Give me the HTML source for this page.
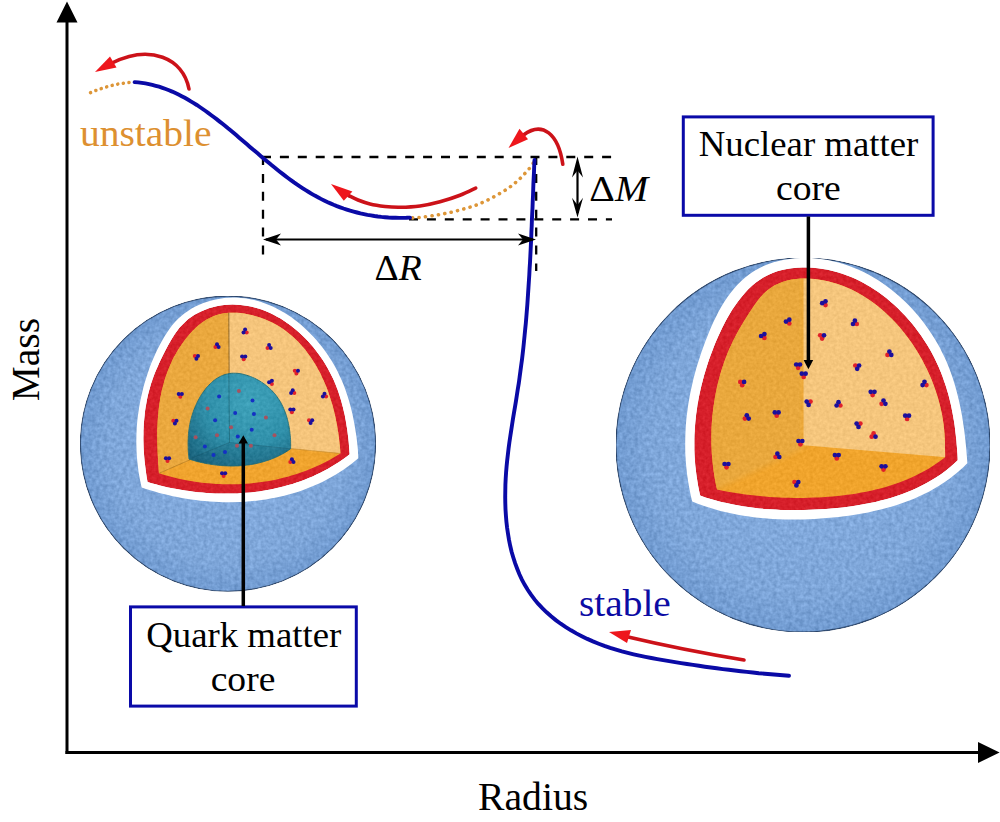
<!DOCTYPE html>
<html><head><meta charset="utf-8">
<style>
html,body{margin:0;padding:0;background:#fff;}
body{width:1000px;height:822px;overflow:hidden;font-family:"Liberation Serif",serif;}
svg{display:block;}
text{font-family:"Liberation Serif",serif;}
</style></head><body>
<svg width="1000" height="822" viewBox="0 0 1000 822">
<defs>
  <radialGradient id="gBlueL" cx="228" cy="443.7" r="148" gradientUnits="userSpaceOnUse">
    <stop offset="0" stop-color="#86addf"/><stop offset="0.8" stop-color="#7ea6d9"/><stop offset="1" stop-color="#719bd1"/>
  </radialGradient>
  <radialGradient id="gBlueR" cx="803" cy="445" r="187" gradientUnits="userSpaceOnUse">
    <stop offset="0" stop-color="#86addf"/><stop offset="0.8" stop-color="#7ea6d9"/><stop offset="1" stop-color="#719bd1"/>
  </radialGradient>
  <radialGradient id="gTeal" cx="250" cy="402" r="80" gradientUnits="userSpaceOnUse">
    <stop offset="0" stop-color="#3fa2ba"/><stop offset="0.55" stop-color="#3090aa"/><stop offset="1" stop-color="#1b657f"/>
  </radialGradient>
  <filter id="tex" x="0" y="0" width="100%" height="100%" color-interpolation-filters="sRGB">
    <feTurbulence type="fractalNoise" baseFrequency="0.26" numOctaves="2" seed="3" result="n"/>
    <feColorMatrix in="n" type="matrix" values="1 0 0 0 0  1 0 0 0 0  1 0 0 0 0  0 0 0 0 1" result="g"/>
    <feComposite in="SourceGraphic" in2="g" operator="arithmetic" k1="0" k2="1" k3="0.2" k4="-0.1" result="c"/>
    <feComposite in="c" in2="SourceGraphic" operator="in"/>
  </filter>
  <filter id="tex2" x="0" y="0" width="100%" height="100%" color-interpolation-filters="sRGB">
    <feTurbulence type="fractalNoise" baseFrequency="0.3" numOctaves="2" seed="8" result="n"/>
    <feColorMatrix in="n" type="matrix" values="1 0 0 0 0  1 0 0 0 0  1 0 0 0 0  0 0 0 0 1" result="g"/>
    <feComposite in="SourceGraphic" in2="g" operator="arithmetic" k1="0" k2="1" k3="0.11" k4="-0.055" result="c"/>
    <feComposite in="c" in2="SourceGraphic" operator="in"/>
  </filter>
  <filter id="soft" x="-5%" y="-5%" width="110%" height="110%"><feGaussianBlur stdDeviation="2.6"/></filter>
  <clipPath id="clipLo"><path d="M159.0 473.3L158.7 469.7L158.5 466.2L158.2 462.6L158.0 459.0L157.8 455.4L157.6 451.8L157.5 448.2L157.4 444.6L157.3 441.0L157.3 437.4L157.3 433.8L157.3 430.2L157.4 426.6L157.6 423.0L157.8 419.4L158.1 415.8L158.4 412.3L158.8 408.7L159.2 405.2L159.8 401.6L160.3 398.1L161.0 394.6L161.7 391.1L162.6 387.6L163.5 384.2L164.4 380.7L165.5 377.3L166.7 373.9L167.9 370.5L169.3 367.2L170.7 363.9L172.2 360.6L173.8 357.3L175.6 354.2L177.4 351.0L179.3 347.9L181.3 344.9L183.4 341.9L185.6 339.0L187.9 336.2L190.2 333.4L192.7 330.8L195.3 328.2L198.0 325.8L200.8 323.6L203.6 321.5L206.6 319.6L209.6 317.9L212.8 316.5L216.0 315.3L219.3 314.3L222.7 313.6L226.2 313.1L229.7 312.8L233.3 312.7L236.9 312.8L240.5 313.1L244.1 313.6L247.7 314.3L251.3 315.0L254.9 316.0L258.5 317.0L262.0 318.2L265.4 319.6L268.8 321.0L272.1 322.6L275.4 324.3L278.5 326.1L281.6 328.1L284.5 330.1L287.4 332.2L290.2 334.4L292.9 336.8L295.5 339.2L298.0 341.6L300.4 344.2L302.8 346.9L305.1 349.6L307.2 352.4L309.3 355.3L311.4 358.2L313.3 361.2L315.2 364.2L317.0 367.3L318.7 370.4L320.4 373.6L321.9 376.9L323.4 380.1L324.9 383.4L326.3 386.8L327.6 390.2L328.8 393.6L329.9 397.0L331.0 400.4L332.1 403.9L333.1 407.4L334.0 410.9L334.8 414.5L335.6 418.0L336.3 421.6L337.0 425.1L337.6 428.7L338.2 432.2L338.7 435.8L339.1 439.4L339.5 442.9L339.9 446.4L340.2 450.0L340.4 453.5L337.1 455.5L333.8 457.5L330.4 459.4L327.0 461.2L323.6 463.0L320.1 464.7L316.6 466.3L313.1 467.8L309.6 469.3L306.0 470.7L302.4 472.0L298.8 473.3L295.1 474.5L291.5 475.6L287.8 476.7L284.1 477.6L280.4 478.5L276.6 479.4L272.9 480.2L269.1 480.9L265.3 481.5L261.5 482.1L257.7 482.6L253.9 483.0L250.1 483.4L246.3 483.7L242.4 484.0L238.6 484.2L234.8 484.3L230.9 484.3L227.1 484.3L223.2 484.2L219.4 484.1L215.5 483.9L211.7 483.6L207.9 483.3L204.0 482.9L200.2 482.4L196.4 481.9L192.6 481.3L188.8 480.7L185.0 479.9L181.3 479.2L177.5 478.4L173.8 477.5L170.0 476.5L166.3 475.5L162.7 474.4L159.0 473.3Z"/></clipPath>
  <clipPath id="clipLt"><path d="M189.0 459.1L188.8 457.1L188.6 455.1L188.5 453.1L188.3 451.1L188.2 449.1L188.2 447.2L188.1 445.2L188.1 443.3L188.1 441.4L188.2 439.4L188.3 437.5L188.4 435.6L188.5 433.7L188.7 431.8L188.9 429.9L189.2 428.1L189.5 426.2L189.8 424.3L190.2 422.4L190.6 420.6L191.1 418.7L191.6 416.8L192.2 414.9L192.8 413.1L193.4 411.2L194.1 409.3L194.9 407.4L195.7 405.6L196.5 403.7L197.4 401.9L198.3 400.1L199.3 398.3L200.3 396.5L201.4 394.8L202.5 393.1L203.7 391.4L204.9 389.8L206.1 388.2L207.4 386.7L208.7 385.3L210.1 383.9L211.5 382.6L212.9 381.3L214.4 380.1L215.9 379.0L217.5 378.0L219.1 377.1L220.7 376.2L222.4 375.5L224.1 374.8L225.9 374.3L227.7 373.9L229.5 373.5L231.4 373.3L233.3 373.2L235.2 373.2L237.1 373.3L239.0 373.5L241.0 373.8L243.0 374.2L244.9 374.7L246.9 375.3L248.8 375.9L250.7 376.6L252.6 377.4L254.5 378.2L256.3 379.1L258.1 380.1L259.9 381.1L261.6 382.2L263.2 383.3L264.8 384.4L266.4 385.6L267.9 386.9L269.4 388.2L270.8 389.5L272.1 390.8L273.4 392.3L274.7 393.7L275.9 395.2L277.0 396.7L278.1 398.3L279.2 399.9L280.2 401.5L281.1 403.2L282.0 404.9L282.9 406.7L283.7 408.5L284.4 410.3L285.1 412.1L285.8 413.9L286.4 415.8L287.0 417.7L287.5 419.6L288.0 421.5L288.4 423.5L288.8 425.4L289.2 427.4L289.5 429.4L289.8 431.3L290.0 433.3L290.2 435.3L290.4 437.2L290.5 439.2L290.6 441.1L290.6 443.1L290.7 445.0L290.6 446.9L290.6 448.8L288.8 450.0L287.0 451.2L285.1 452.4L283.3 453.5L281.4 454.5L279.4 455.5L277.5 456.4L275.6 457.3L273.6 458.2L271.6 459.0L269.6 459.7L267.6 460.4L265.5 461.1L263.5 461.7L261.4 462.3L259.3 462.8L257.2 463.3L255.1 463.8L253.0 464.2L250.9 464.5L248.8 464.9L246.6 465.1L244.5 465.4L242.3 465.6L240.2 465.7L238.0 465.9L235.8 465.9L233.7 466.0L231.5 466.0L229.3 466.0L227.2 465.9L225.0 465.8L222.8 465.7L220.7 465.5L218.5 465.3L216.3 465.1L214.2 464.8L212.0 464.5L209.9 464.1L207.7 463.8L205.6 463.4L203.5 462.9L201.4 462.5L199.3 462.0L197.2 461.5L195.1 460.9L193.1 460.3L191.0 459.7L189.0 459.1Z"/></clipPath>
  <clipPath id="clipRo"><path d="M717.0 489.6L716.0 485.2L715.2 480.7L714.4 476.2L713.7 471.6L713.1 467.0L712.6 462.5L712.2 457.9L711.8 453.2L711.6 448.6L711.4 444.0L711.4 439.3L711.4 434.6L711.5 430.0L711.7 425.3L712.0 420.7L712.4 416.0L712.9 411.4L713.5 406.8L714.2 402.2L714.9 397.6L715.8 393.0L716.7 388.4L717.7 383.9L718.9 379.4L720.1 375.0L721.4 370.6L722.8 366.2L724.3 361.8L725.9 357.5L727.5 353.3L729.3 349.1L731.2 344.9L733.1 340.8L735.2 336.7L737.3 332.7L739.5 328.7L741.9 324.7L744.3 320.7L746.8 316.7L749.3 312.7L752.0 308.7L754.7 304.7L757.6 300.8L760.6 297.0L763.8 293.5L767.2 290.4L770.9 287.7L774.7 285.3L778.8 283.4L783.0 281.8L787.3 280.5L791.8 279.6L796.3 278.9L800.9 278.6L805.6 278.5L810.3 278.7L815.0 279.1L819.6 279.7L824.2 280.5L828.7 281.5L833.2 282.7L837.6 284.0L841.9 285.5L846.2 287.2L850.4 289.1L854.5 291.1L858.5 293.2L862.5 295.5L866.4 297.9L870.2 300.5L874.0 303.2L877.6 306.0L881.2 309.0L884.7 312.0L888.1 315.2L891.5 318.5L894.7 321.8L897.9 325.3L900.9 328.8L903.9 332.5L906.8 336.2L909.6 340.0L912.3 343.8L914.9 347.8L917.4 351.7L919.8 355.8L922.1 359.8L924.2 364.0L926.3 368.1L928.3 372.3L930.2 376.6L932.0 380.8L933.6 385.1L935.2 389.4L936.6 393.7L938.0 398.0L939.2 402.4L940.3 406.7L941.3 411.2L942.2 415.6L942.9 420.1L943.6 424.6L944.1 429.2L944.5 433.8L944.8 438.5L945.0 443.2L945.0 448.0L945.1 452.7L945.1 457.3L941.2 460.3L937.2 463.1L933.1 465.8L929.0 468.4L924.8 470.8L920.6 473.1L916.3 475.3L912.0 477.3L907.6 479.2L903.1 481.0L898.7 482.7L894.1 484.3L889.6 485.8L885.0 487.2L880.3 488.4L875.7 489.6L871.0 490.7L866.3 491.7L861.5 492.6L856.7 493.4L852.0 494.2L847.1 494.8L842.3 495.4L837.5 496.0L832.6 496.4L827.8 496.8L822.9 497.2L818.1 497.4L813.2 497.6L808.3 497.8L803.5 497.9L798.6 497.9L793.7 497.9L788.8 497.8L784.0 497.7L779.1 497.5L774.3 497.2L769.4 496.9L764.6 496.5L759.8 496.1L755.0 495.6L750.2 495.1L745.4 494.4L740.6 493.8L735.8 493.1L731.1 492.3L726.4 491.4L721.7 490.5L717.0 489.6Z"/></clipPath>
</defs>

<!-- ================= LEFT SPHERE ================= -->
<g id="sphL">
  <circle cx="228" cy="443.7" r="147.6" fill="url(#gBlueL)" stroke="#334e74" stroke-width="1.1" filter="url(#tex)"/>
  <path d="M141.6 487.5L140.7 483.3L139.8 479.1L139.1 474.9L138.4 470.7L137.9 466.5L137.4 462.3L137.0 458.0L136.7 453.8L136.5 449.6L136.4 445.3L136.3 441.1L136.4 436.8L136.5 432.6L136.7 428.4L137.0 424.2L137.4 420.0L137.9 415.8L138.5 411.6L139.1 407.4L139.9 403.2L140.7 399.0L141.6 394.9L142.6 390.7L143.6 386.6L144.8 382.5L146.0 378.4L147.3 374.4L148.7 370.3L150.1 366.3L151.7 362.3L153.3 358.4L155.1 354.5L156.9 350.6L158.8 346.7L160.8 342.9L162.9 339.2L165.1 335.5L167.4 331.9L169.8 328.4L172.4 325.0L175.2 321.8L178.1 318.8L181.3 316.0L184.6 313.3L188.0 310.9L191.6 308.6L195.4 306.6L199.3 304.8L203.3 303.1L207.3 301.7L211.5 300.5L215.6 299.5L219.9 298.7L224.1 298.1L228.3 297.7L232.5 297.6L236.7 297.6L240.9 297.9L245.0 298.3L249.1 299.0L253.2 299.8L257.2 300.8L261.2 302.0L265.1 303.4L269.0 304.9L272.8 306.6L276.6 308.4L280.3 310.4L284.0 312.5L287.6 314.7L291.1 317.1L294.6 319.7L298.0 322.3L301.3 325.0L304.5 327.9L307.7 330.9L310.7 333.9L313.7 337.1L316.6 340.3L319.4 343.7L322.1 347.1L324.7 350.5L327.2 354.1L329.6 357.7L331.9 361.3L334.1 365.0L336.2 368.8L338.1 372.6L339.9 376.4L341.7 380.2L343.3 384.1L344.8 388.1L346.2 392.0L347.5 396.0L348.8 400.0L349.9 404.0L351.0 408.1L352.0 412.2L352.9 416.3L353.7 420.4L354.5 424.5L355.2 428.7L355.9 432.9L356.5 437.1L357.0 441.3L357.5 445.6L357.9 449.8L358.1 454.1L358.3 458.3L354.7 461.3L351.0 464.2L347.2 467.0L343.4 469.7L339.5 472.3L335.5 474.7L331.5 477.1L327.4 479.3L323.3 481.4L319.1 483.4L314.9 485.3L310.6 487.1L306.3 488.8L302.0 490.4L297.6 491.9L293.1 493.3L288.7 494.5L284.2 495.7L279.6 496.8L275.1 497.7L270.5 498.6L265.9 499.4L261.3 500.1L256.6 500.7L252.0 501.1L247.3 501.5L242.6 501.9L237.9 502.1L233.2 502.2L228.5 502.2L223.8 502.2L219.1 502.1L214.4 501.8L209.8 501.5L205.1 501.1L200.4 500.7L195.7 500.1L191.1 499.5L186.4 498.8L181.8 498.0L177.2 497.1L172.7 496.2L168.1 495.1L163.6 494.0L159.2 492.9L154.7 491.6L150.3 490.3L145.9 488.9L141.6 487.5Z" fill="#fff"/>
  <g filter="url(#tex2)">
  <path d="M147.6 482.0L146.9 478.2L146.3 474.3L145.8 470.4L145.3 466.5L144.8 462.6L144.4 458.7L144.1 454.7L143.8 450.7L143.6 446.8L143.5 442.8L143.4 438.8L143.5 434.8L143.5 430.8L143.7 426.8L143.9 422.9L144.3 418.9L144.7 414.9L145.1 411.0L145.7 407.1L146.4 403.2L147.1 399.3L147.9 395.5L148.9 391.6L149.9 387.9L151.0 384.1L152.2 380.4L153.5 376.7L154.9 373.1L156.4 369.5L158.0 365.9L159.6 362.3L161.3 358.7L163.1 355.1L164.9 351.6L166.7 348.0L168.6 344.4L170.6 340.9L172.7 337.4L174.9 334.0L177.3 330.8L179.7 327.6L182.4 324.7L185.2 321.9L188.1 319.3L191.3 317.0L194.6 314.8L198.0 312.9L201.6 311.2L205.3 309.7L209.0 308.3L212.9 307.2L216.7 306.3L220.7 305.6L224.6 305.1L228.5 304.7L232.4 304.6L236.3 304.7L240.2 304.9L244.1 305.4L247.9 306.0L251.7 306.8L255.4 307.7L259.1 308.8L262.8 310.1L266.4 311.5L270.0 313.1L273.5 314.8L277.0 316.7L280.4 318.6L283.8 320.7L287.0 323.0L290.3 325.3L293.4 327.7L296.5 330.3L299.6 333.0L302.5 335.7L305.4 338.6L308.2 341.5L310.9 344.5L313.5 347.6L316.0 350.8L318.4 354.0L320.8 357.3L323.0 360.6L325.2 364.0L327.2 367.4L329.1 370.9L330.9 374.4L332.7 378.0L334.3 381.5L335.8 385.2L337.2 388.8L338.5 392.5L339.7 396.2L340.9 399.9L341.9 403.7L342.9 407.4L343.8 411.2L344.7 415.1L345.4 418.9L346.1 422.8L346.7 426.7L347.3 430.6L347.8 434.5L348.3 438.4L348.7 442.4L349.0 446.3L349.3 450.3L349.6 454.3L346.1 457.0L342.6 459.5L339.0 462.0L335.3 464.3L331.6 466.6L327.9 468.7L324.1 470.8L320.3 472.7L316.4 474.6L312.5 476.4L308.5 478.1L304.5 479.7L300.5 481.2L296.5 482.6L292.4 483.9L288.3 485.1L284.1 486.3L280.0 487.3L275.8 488.3L271.6 489.2L267.3 490.0L263.1 490.7L258.8 491.4L254.5 491.9L250.2 492.4L245.9 492.8L241.6 493.1L237.3 493.4L232.9 493.5L228.6 493.6L224.2 493.6L219.9 493.6L215.5 493.5L211.2 493.2L206.9 493.0L202.5 492.6L198.2 492.2L193.9 491.7L189.6 491.1L185.3 490.5L181.0 489.8L176.8 489.1L172.5 488.3L168.3 487.4L164.1 486.4L160.0 485.4L155.8 484.3L151.7 483.2L147.6 482.0Z" fill="#d61f2a"/>
  <path d="M159.0 473.3L158.7 469.7L158.5 466.2L158.2 462.6L158.0 459.0L157.8 455.4L157.6 451.8L157.5 448.2L157.4 444.6L157.3 441.0L157.3 437.4L157.3 433.8L157.3 430.2L157.4 426.6L157.6 423.0L157.8 419.4L158.1 415.8L158.4 412.3L158.8 408.7L159.2 405.2L159.8 401.6L160.3 398.1L161.0 394.6L161.7 391.1L162.6 387.6L163.5 384.2L164.4 380.7L165.5 377.3L166.7 373.9L167.9 370.5L169.3 367.2L170.7 363.9L172.2 360.6L173.8 357.3L175.6 354.2L177.4 351.0L179.3 347.9L181.3 344.9L183.4 341.9L185.6 339.0L187.9 336.2L190.2 333.4L192.7 330.8L195.3 328.2L198.0 325.8L200.8 323.6L203.6 321.5L206.6 319.6L209.6 317.9L212.8 316.5L216.0 315.3L219.3 314.3L222.7 313.6L226.2 313.1L229.7 312.8L233.3 312.7L236.9 312.8L240.5 313.1L244.1 313.6L247.7 314.3L251.3 315.0L254.9 316.0L258.5 317.0L262.0 318.2L265.4 319.6L268.8 321.0L272.1 322.6L275.4 324.3L278.5 326.1L281.6 328.1L284.5 330.1L287.4 332.2L290.2 334.4L292.9 336.8L295.5 339.2L298.0 341.6L300.4 344.2L302.8 346.9L305.1 349.6L307.2 352.4L309.3 355.3L311.4 358.2L313.3 361.2L315.2 364.2L317.0 367.3L318.7 370.4L320.4 373.6L321.9 376.9L323.4 380.1L324.9 383.4L326.3 386.8L327.6 390.2L328.8 393.6L329.9 397.0L331.0 400.4L332.1 403.9L333.1 407.4L334.0 410.9L334.8 414.5L335.6 418.0L336.3 421.6L337.0 425.1L337.6 428.7L338.2 432.2L338.7 435.8L339.1 439.4L339.5 442.9L339.9 446.4L340.2 450.0L340.4 453.5L337.1 455.5L333.8 457.5L330.4 459.4L327.0 461.2L323.6 463.0L320.1 464.7L316.6 466.3L313.1 467.8L309.6 469.3L306.0 470.7L302.4 472.0L298.8 473.3L295.1 474.5L291.5 475.6L287.8 476.7L284.1 477.6L280.4 478.5L276.6 479.4L272.9 480.2L269.1 480.9L265.3 481.5L261.5 482.1L257.7 482.6L253.9 483.0L250.1 483.4L246.3 483.7L242.4 484.0L238.6 484.2L234.8 484.3L230.9 484.3L227.1 484.3L223.2 484.2L219.4 484.1L215.5 483.9L211.7 483.6L207.9 483.3L204.0 482.9L200.2 482.4L196.4 481.9L192.6 481.3L188.8 480.7L185.0 479.9L181.3 479.2L177.5 478.4L173.8 477.5L170.0 476.5L166.3 475.5L162.7 474.4L159.0 473.3Z" fill="#f0a42e"/>
  <g clip-path="url(#clipLo)">
    <path d="M228.79999999999998 292.4 L229.5 442.5 L159 473.3 L60 483.3 L60 280 Z" fill="#eaa83e"/>
    <path d="M228.79999999999998 292.4 L229.5 442.5 L343.4 453.6 L420 460 L420 280 Z" fill="#f5c57c"/>
    <path d="M228.79999999999998 312.4 L229.5 442.5" stroke="#7a5a2a" stroke-width="0.8" fill="none"/>
    <path d="M159 473.3 L229.5 442.5" stroke="#b07a24" stroke-width="0.7" fill="none"/>
    <path d="M340.4 453.5 L229.5 442.5" stroke="#c08a34" stroke-width="0.6" fill="none"/>
  </g>
  <path d="M189.0 459.1L188.8 457.1L188.6 455.1L188.5 453.1L188.3 451.1L188.2 449.1L188.2 447.2L188.1 445.2L188.1 443.3L188.1 441.4L188.2 439.4L188.3 437.5L188.4 435.6L188.5 433.7L188.7 431.8L188.9 429.9L189.2 428.1L189.5 426.2L189.8 424.3L190.2 422.4L190.6 420.6L191.1 418.7L191.6 416.8L192.2 414.9L192.8 413.1L193.4 411.2L194.1 409.3L194.9 407.4L195.7 405.6L196.5 403.7L197.4 401.9L198.3 400.1L199.3 398.3L200.3 396.5L201.4 394.8L202.5 393.1L203.7 391.4L204.9 389.8L206.1 388.2L207.4 386.7L208.7 385.3L210.1 383.9L211.5 382.6L212.9 381.3L214.4 380.1L215.9 379.0L217.5 378.0L219.1 377.1L220.7 376.2L222.4 375.5L224.1 374.8L225.9 374.3L227.7 373.9L229.5 373.5L231.4 373.3L233.3 373.2L235.2 373.2L237.1 373.3L239.0 373.5L241.0 373.8L243.0 374.2L244.9 374.7L246.9 375.3L248.8 375.9L250.7 376.6L252.6 377.4L254.5 378.2L256.3 379.1L258.1 380.1L259.9 381.1L261.6 382.2L263.2 383.3L264.8 384.4L266.4 385.6L267.9 386.9L269.4 388.2L270.8 389.5L272.1 390.8L273.4 392.3L274.7 393.7L275.9 395.2L277.0 396.7L278.1 398.3L279.2 399.9L280.2 401.5L281.1 403.2L282.0 404.9L282.9 406.7L283.7 408.5L284.4 410.3L285.1 412.1L285.8 413.9L286.4 415.8L287.0 417.7L287.5 419.6L288.0 421.5L288.4 423.5L288.8 425.4L289.2 427.4L289.5 429.4L289.8 431.3L290.0 433.3L290.2 435.3L290.4 437.2L290.5 439.2L290.6 441.1L290.6 443.1L290.7 445.0L290.6 446.9L290.6 448.8L288.8 450.0L287.0 451.2L285.1 452.4L283.3 453.5L281.4 454.5L279.4 455.5L277.5 456.4L275.6 457.3L273.6 458.2L271.6 459.0L269.6 459.7L267.6 460.4L265.5 461.1L263.5 461.7L261.4 462.3L259.3 462.8L257.2 463.3L255.1 463.8L253.0 464.2L250.9 464.5L248.8 464.9L246.6 465.1L244.5 465.4L242.3 465.6L240.2 465.7L238.0 465.9L235.8 465.9L233.7 466.0L231.5 466.0L229.3 466.0L227.2 465.9L225.0 465.8L222.8 465.7L220.7 465.5L218.5 465.3L216.3 465.1L214.2 464.8L212.0 464.5L209.9 464.1L207.7 463.8L205.6 463.4L203.5 462.9L201.4 462.5L199.3 462.0L197.2 461.5L195.1 460.9L193.1 460.3L191.0 459.7L189.0 459.1Z" fill="url(#gTeal)" stroke="#256f78" stroke-width="0.9"/>
  <g clip-path="url(#clipLt)">
    <path d="M229.5 442.5 L189 459.1 L185 480 L295 480 L290.6 448.8 Z" fill="#124f68" opacity="0.2"/>
    <path d="M228.79999999999998 372 L229.5 442.5" stroke="#1d5f6e" stroke-width="0.8" fill="none" opacity="0.8"/>
    <path d="M189 459.1 L229.5 442.5 L290.6 448.8" stroke="#1a5a6c" stroke-width="0.7" fill="none" opacity="0.6"/>
  </g>
  </g>
  <circle cx="246.7" cy="332.4" r="2.0" fill="#e0202a"/><circle cx="243.5" cy="332.4" r="2.0" fill="#1c0f9c"/><circle cx="245.1" cy="329.6" r="2.0" fill="#1c0f9c"/><circle cx="215.4" cy="347.1" r="2.0" fill="#e0202a"/><circle cx="217.0" cy="344.3" r="2.0" fill="#1c0f9c"/><circle cx="218.6" cy="347.1" r="2.0" fill="#1c0f9c"/><circle cx="267.5" cy="347.9" r="2.0" fill="#e0202a"/><circle cx="269.1" cy="345.1" r="2.0" fill="#1c0f9c"/><circle cx="270.7" cy="347.9" r="2.0" fill="#1c0f9c"/><circle cx="194.8" cy="356.0" r="2.0" fill="#e0202a"/><circle cx="198.0" cy="356.0" r="2.0" fill="#1c0f9c"/><circle cx="196.4" cy="358.8" r="2.0" fill="#1c0f9c"/><circle cx="243.7" cy="359.2" r="2.0" fill="#e0202a"/><circle cx="242.1" cy="356.5" r="2.0" fill="#1c0f9c"/><circle cx="245.3" cy="356.5" r="2.0" fill="#1c0f9c"/><circle cx="296.4" cy="373.5" r="2.0" fill="#e0202a"/><circle cx="294.8" cy="370.7" r="2.0" fill="#e0202a"/><circle cx="298.0" cy="370.7" r="2.0" fill="#1c0f9c"/><circle cx="271.9" cy="383.9" r="2.0" fill="#e0202a"/><circle cx="269.1" cy="382.3" r="2.0" fill="#1c0f9c"/><circle cx="271.9" cy="380.7" r="2.0" fill="#1c0f9c"/><circle cx="180.3" cy="396.8" r="2.0" fill="#e0202a"/><circle cx="178.7" cy="394.0" r="2.0" fill="#1c0f9c"/><circle cx="181.9" cy="394.0" r="2.0" fill="#1c0f9c"/><circle cx="294.3" cy="393.1" r="2.0" fill="#e0202a"/><circle cx="291.1" cy="393.1" r="2.0" fill="#1c0f9c"/><circle cx="292.7" cy="390.3" r="2.0" fill="#1c0f9c"/><circle cx="326.1" cy="396.6" r="2.0" fill="#e0202a"/><circle cx="322.9" cy="396.6" r="2.0" fill="#1c0f9c"/><circle cx="324.5" cy="393.8" r="2.0" fill="#1c0f9c"/><circle cx="291.9" cy="412.2" r="2.0" fill="#e0202a"/><circle cx="290.3" cy="409.5" r="2.0" fill="#1c0f9c"/><circle cx="293.5" cy="409.5" r="2.0" fill="#1c0f9c"/><circle cx="173.3" cy="420.7" r="2.0" fill="#e0202a"/><circle cx="176.5" cy="420.7" r="2.0" fill="#1c0f9c"/><circle cx="174.9" cy="423.5" r="2.0" fill="#1c0f9c"/><circle cx="309.0" cy="420.2" r="2.0" fill="#e0202a"/><circle cx="312.2" cy="420.2" r="2.0" fill="#1c0f9c"/><circle cx="310.6" cy="423.0" r="2.0" fill="#1c0f9c"/><circle cx="167.5" cy="461.0" r="2.0" fill="#e0202a"/><circle cx="165.9" cy="458.2" r="2.0" fill="#1c0f9c"/><circle cx="169.1" cy="458.2" r="2.0" fill="#1c0f9c"/><circle cx="290.3" cy="462.1" r="2.0" fill="#e0202a"/><circle cx="291.9" cy="459.3" r="2.0" fill="#1c0f9c"/><circle cx="293.5" cy="462.1" r="2.0" fill="#1c0f9c"/><circle cx="223.6" cy="476.0" r="2.0" fill="#e0202a"/><circle cx="222.0" cy="473.2" r="2.0" fill="#1c0f9c"/><circle cx="225.2" cy="473.2" r="2.0" fill="#1c0f9c"/>
  <circle cx="219.1" cy="396.5" r="2" fill="#1430c4"/><circle cx="252.5" cy="400.5" r="2" fill="#1430c4"/><circle cx="235.2" cy="413.1" r="2" fill="#1430c4"/><circle cx="253.9" cy="413.9" r="2" fill="#1430c4"/><circle cx="215.1" cy="420.3" r="2" fill="#1430c4"/><circle cx="251.7" cy="429.7" r="2" fill="#1430c4"/><circle cx="237.8" cy="436.6" r="2" fill="#1430c4"/><circle cx="204.9" cy="446.5" r="2" fill="#1430c4"/><circle cx="225.0" cy="451.9" r="2" fill="#1430c4"/><circle cx="213.5" cy="455.1" r="2" fill="#1430c4"/>
  <circle cx="238.9" cy="390.9" r="2" fill="#a5525f"/><circle cx="207.6" cy="408.5" r="2" fill="#a5525f"/><circle cx="265.9" cy="417.6" r="2" fill="#a5525f"/><circle cx="231.1" cy="427.3" r="2" fill="#a5525f"/><circle cx="217.0" cy="435.3" r="2" fill="#a5525f"/><circle cx="195.6" cy="437.2" r="2" fill="#a5525f"/><circle cx="274.5" cy="435.3" r="2" fill="#a5525f"/><circle cx="237.0" cy="445.7" r="2" fill="#a5525f"/><circle cx="250.9" cy="445.7" r="2" fill="#a5525f"/>
</g>

<!-- ================= RIGHT SPHERE ================= -->
<g id="sphR">
  <circle cx="803" cy="445" r="187" fill="url(#gBlueR)" stroke="#334e74" stroke-width="1.1" filter="url(#tex)"/>
  <path d="M692.2 501.6L690.9 496.2L689.8 490.8L688.8 485.4L687.9 480.0L687.1 474.6L686.5 469.2L686.0 463.8L685.6 458.4L685.3 453.0L685.2 447.6L685.2 442.2L685.3 436.8L685.5 431.5L685.8 426.1L686.2 420.8L686.8 415.4L687.5 410.1L688.2 404.7L689.1 399.4L690.1 394.1L691.2 388.8L692.4 383.5L693.6 378.2L695.0 372.9L696.5 367.6L698.1 362.4L699.8 357.2L701.5 351.9L703.4 346.7L705.3 341.5L707.3 336.4L709.4 331.2L711.6 326.1L713.9 321.0L716.4 316.0L718.9 311.1L721.6 306.3L724.5 301.6L727.5 297.1L730.7 292.7L734.1 288.5L737.7 284.5L741.5 280.8L745.5 277.2L749.7 274.0L754.1 271.0L758.7 268.4L763.5 266.0L768.5 264.0L773.5 262.3L778.7 260.9L784.0 259.8L789.4 258.9L794.9 258.3L800.4 258.0L805.9 257.9L811.4 258.1L816.8 258.5L822.3 259.2L827.7 260.1L833.0 261.2L838.3 262.5L843.5 264.1L848.6 265.8L853.7 267.7L858.7 269.8L863.6 272.1L868.4 274.6L873.1 277.3L877.8 280.1L882.3 283.1L886.8 286.2L891.1 289.5L895.4 293.0L899.5 296.5L903.6 300.3L907.5 304.1L911.3 308.0L915.0 312.1L918.6 316.3L922.1 320.6L925.4 324.9L928.6 329.4L931.6 334.0L934.5 338.6L937.3 343.3L940.0 348.1L942.4 352.9L944.8 357.8L947.0 362.8L949.0 367.8L950.9 372.8L952.7 377.9L954.3 383.1L955.8 388.2L957.2 393.4L958.5 398.7L959.7 404.0L960.8 409.3L961.8 414.6L962.7 420.0L963.5 425.3L964.3 430.7L964.9 436.1L965.5 441.6L966.1 447.0L966.5 452.4L967.0 457.9L967.3 463.3L963.0 467.5L958.5 471.5L953.9 475.3L949.2 478.9L944.4 482.3L939.5 485.5L934.4 488.6L929.3 491.4L924.1 494.1L918.8 496.6L913.4 498.9L908.0 501.1L902.5 503.1L896.9 505.0L891.2 506.7L885.5 508.3L879.8 509.8L874.0 511.1L868.1 512.4L862.2 513.5L856.3 514.5L850.4 515.4L844.5 516.2L838.5 516.9L832.5 517.5L826.5 518.1L820.6 518.5L814.6 518.9L808.6 519.2L802.6 519.4L796.7 519.5L790.7 519.5L784.8 519.4L778.8 519.2L772.9 518.9L767.0 518.5L761.1 518.0L755.2 517.4L749.3 516.6L743.5 515.7L737.7 514.7L731.9 513.6L726.1 512.3L720.4 510.9L714.7 509.3L709.0 507.6L703.4 505.8L697.8 503.8L692.2 501.6Z" fill="#fff"/>
  <g filter="url(#tex2)">
  <path d="M700.2 495.6L699.1 490.5L698.1 485.5L697.3 480.4L696.5 475.3L695.9 470.3L695.3 465.2L694.9 460.1L694.6 455.1L694.4 450.1L694.4 445.0L694.4 440.0L694.5 435.0L694.8 430.0L695.1 425.0L695.6 420.0L696.1 415.0L696.8 410.0L697.5 405.1L698.4 400.1L699.3 395.2L700.4 390.3L701.5 385.4L702.8 380.5L704.1 375.6L705.5 370.7L707.0 365.9L708.6 361.0L710.3 356.2L712.1 351.4L714.0 346.6L715.9 341.8L718.0 337.1L720.1 332.4L722.3 327.7L724.7 323.1L727.1 318.5L729.7 314.0L732.4 309.6L735.2 305.4L738.2 301.2L741.4 297.2L744.7 293.3L748.1 289.6L751.8 286.1L755.6 282.8L759.6 279.9L763.8 277.2L768.2 275.0L772.7 273.0L777.4 271.3L782.2 270.0L787.1 268.9L792.1 268.2L797.2 267.7L802.3 267.4L807.4 267.5L812.5 267.7L817.6 268.2L822.6 268.9L827.6 269.8L832.5 270.9L837.4 272.2L842.2 273.7L847.0 275.4L851.6 277.3L856.2 279.3L860.8 281.6L865.2 283.9L869.6 286.5L873.9 289.2L878.1 292.0L882.2 295.0L886.2 298.1L890.2 301.4L894.0 304.7L897.8 308.2L901.4 311.9L904.9 315.6L908.4 319.4L911.7 323.3L914.9 327.3L918.0 331.5L921.0 335.6L923.9 339.9L926.7 344.2L929.3 348.6L931.8 353.1L934.2 357.6L936.4 362.2L938.5 366.8L940.5 371.5L942.3 376.1L944.0 380.9L945.6 385.6L947.1 390.4L948.5 395.2L949.7 400.1L950.9 405.0L951.9 409.9L952.8 414.8L953.7 419.8L954.5 424.8L955.1 429.8L955.7 434.8L956.3 439.9L956.7 445.0L957.1 450.1L957.5 455.2L957.7 460.3L953.6 464.1L949.3 467.7L945.0 471.2L940.5 474.4L935.9 477.5L931.3 480.3L926.5 483.0L921.7 485.6L916.8 488.0L911.8 490.2L906.8 492.3L901.7 494.2L896.5 496.0L891.3 497.7L886.0 499.2L880.7 500.6L875.3 501.9L869.9 503.1L864.5 504.1L859.0 505.1L853.5 506.0L848.0 506.7L842.4 507.4L836.9 508.0L831.3 508.5L825.7 508.9L820.2 509.3L814.6 509.6L809.0 509.8L803.5 510.0L797.9 510.1L792.4 510.1L786.9 510.0L781.3 509.9L775.8 509.6L770.3 509.3L764.8 508.9L759.3 508.4L753.9 507.8L748.4 507.1L743.0 506.2L737.6 505.3L732.2 504.3L726.8 503.1L721.4 501.9L716.1 500.5L710.8 499.0L705.5 497.4L700.2 495.6Z" fill="#d61f2a"/>
  <path d="M717.0 489.6L716.0 485.2L715.2 480.7L714.4 476.2L713.7 471.6L713.1 467.0L712.6 462.5L712.2 457.9L711.8 453.2L711.6 448.6L711.4 444.0L711.4 439.3L711.4 434.6L711.5 430.0L711.7 425.3L712.0 420.7L712.4 416.0L712.9 411.4L713.5 406.8L714.2 402.2L714.9 397.6L715.8 393.0L716.7 388.4L717.7 383.9L718.9 379.4L720.1 375.0L721.4 370.6L722.8 366.2L724.3 361.8L725.9 357.5L727.5 353.3L729.3 349.1L731.2 344.9L733.1 340.8L735.2 336.7L737.3 332.7L739.5 328.7L741.9 324.7L744.3 320.7L746.8 316.7L749.3 312.7L752.0 308.7L754.7 304.7L757.6 300.8L760.6 297.0L763.8 293.5L767.2 290.4L770.9 287.7L774.7 285.3L778.8 283.4L783.0 281.8L787.3 280.5L791.8 279.6L796.3 278.9L800.9 278.6L805.6 278.5L810.3 278.7L815.0 279.1L819.6 279.7L824.2 280.5L828.7 281.5L833.2 282.7L837.6 284.0L841.9 285.5L846.2 287.2L850.4 289.1L854.5 291.1L858.5 293.2L862.5 295.5L866.4 297.9L870.2 300.5L874.0 303.2L877.6 306.0L881.2 309.0L884.7 312.0L888.1 315.2L891.5 318.5L894.7 321.8L897.9 325.3L900.9 328.8L903.9 332.5L906.8 336.2L909.6 340.0L912.3 343.8L914.9 347.8L917.4 351.7L919.8 355.8L922.1 359.8L924.2 364.0L926.3 368.1L928.3 372.3L930.2 376.6L932.0 380.8L933.6 385.1L935.2 389.4L936.6 393.7L938.0 398.0L939.2 402.4L940.3 406.7L941.3 411.2L942.2 415.6L942.9 420.1L943.6 424.6L944.1 429.2L944.5 433.8L944.8 438.5L945.0 443.2L945.0 448.0L945.1 452.7L945.1 457.3L941.2 460.3L937.2 463.1L933.1 465.8L929.0 468.4L924.8 470.8L920.6 473.1L916.3 475.3L912.0 477.3L907.6 479.2L903.1 481.0L898.7 482.7L894.1 484.3L889.6 485.8L885.0 487.2L880.3 488.4L875.7 489.6L871.0 490.7L866.3 491.7L861.5 492.6L856.7 493.4L852.0 494.2L847.1 494.8L842.3 495.4L837.5 496.0L832.6 496.4L827.8 496.8L822.9 497.2L818.1 497.4L813.2 497.6L808.3 497.8L803.5 497.9L798.6 497.9L793.7 497.9L788.8 497.8L784.0 497.7L779.1 497.5L774.3 497.2L769.4 496.9L764.6 496.5L759.8 496.1L755.0 495.6L750.2 495.1L745.4 494.4L740.6 493.8L735.8 493.1L731.1 492.3L726.4 491.4L721.7 490.5L717.0 489.6Z" fill="#f0a42c"/>
  <g clip-path="url(#clipRo)">
    <path d="M803.5 258.13012024343124 L803.5 448.3 L717.0 489.6 L600 499.6 L600 240 Z" fill="#e9a83e" filter="url(#soft)"/>
    <path d="M803.5 258.13012024343124 L803.5 445.3 L948.1272887606577 457.53324324242357 L1000 460 L1000 240 Z" fill="#f5c67d"/>
  </g>
  </g>
  <circle cx="825.5" cy="305.1" r="2.35" fill="#e0202a"/><circle cx="822.2" cy="303.2" r="2.35" fill="#1c0f9c"/><circle cx="825.5" cy="301.3" r="2.35" fill="#1c0f9c"/><circle cx="789.3" cy="323.5" r="2.35" fill="#e0202a"/><circle cx="786.0" cy="321.6" r="2.35" fill="#1c0f9c"/><circle cx="789.3" cy="319.7" r="2.35" fill="#1c0f9c"/><circle cx="856.8" cy="324.0" r="2.35" fill="#e0202a"/><circle cx="853.0" cy="324.0" r="2.35" fill="#1c0f9c"/><circle cx="854.9" cy="320.7" r="2.35" fill="#1c0f9c"/><circle cx="764.4" cy="337.9" r="2.35" fill="#e0202a"/><circle cx="761.1" cy="336.0" r="2.35" fill="#1c0f9c"/><circle cx="764.4" cy="334.1" r="2.35" fill="#1c0f9c"/><circle cx="822.1" cy="338.6" r="2.35" fill="#e0202a"/><circle cx="820.2" cy="335.3" r="2.35" fill="#e0202a"/><circle cx="824.0" cy="335.3" r="2.35" fill="#1c0f9c"/><circle cx="887.5" cy="354.9" r="2.35" fill="#e0202a"/><circle cx="889.4" cy="351.6" r="2.35" fill="#1c0f9c"/><circle cx="891.3" cy="354.9" r="2.35" fill="#1c0f9c"/><circle cx="798.1" cy="367.8" r="2.35" fill="#e0202a"/><circle cx="796.2" cy="364.5" r="2.35" fill="#1c0f9c"/><circle cx="800.0" cy="364.5" r="2.35" fill="#1c0f9c"/><circle cx="855.3" cy="365.5" r="2.35" fill="#e0202a"/><circle cx="859.1" cy="365.5" r="2.35" fill="#1c0f9c"/><circle cx="857.2" cy="368.8" r="2.35" fill="#1c0f9c"/><circle cx="803.7" cy="377.0" r="2.35" fill="#e0202a"/><circle cx="801.8" cy="373.7" r="2.35" fill="#1c0f9c"/><circle cx="805.6" cy="373.7" r="2.35" fill="#1c0f9c"/><circle cx="742.2" cy="385.2" r="2.35" fill="#e0202a"/><circle cx="740.3" cy="381.9" r="2.35" fill="#e0202a"/><circle cx="744.1" cy="381.9" r="2.35" fill="#1c0f9c"/><circle cx="926.4" cy="385.1" r="2.35" fill="#e0202a"/><circle cx="922.6" cy="385.1" r="2.35" fill="#1c0f9c"/><circle cx="924.5" cy="381.8" r="2.35" fill="#1c0f9c"/><circle cx="872.6" cy="395.1" r="2.35" fill="#e0202a"/><circle cx="870.7" cy="391.8" r="2.35" fill="#1c0f9c"/><circle cx="874.5" cy="391.8" r="2.35" fill="#1c0f9c"/><circle cx="810.5" cy="401.6" r="2.35" fill="#e0202a"/><circle cx="808.6" cy="404.9" r="2.35" fill="#1c0f9c"/><circle cx="806.7" cy="401.6" r="2.35" fill="#1c0f9c"/><circle cx="840.4" cy="405.5" r="2.35" fill="#e0202a"/><circle cx="836.6" cy="405.5" r="2.35" fill="#1c0f9c"/><circle cx="838.5" cy="402.2" r="2.35" fill="#1c0f9c"/><circle cx="881.6" cy="403.8" r="2.35" fill="#e0202a"/><circle cx="883.5" cy="400.5" r="2.35" fill="#1c0f9c"/><circle cx="885.4" cy="403.8" r="2.35" fill="#1c0f9c"/><circle cx="776.7" cy="415.7" r="2.35" fill="#e0202a"/><circle cx="774.8" cy="412.4" r="2.35" fill="#1c0f9c"/><circle cx="778.6" cy="412.4" r="2.35" fill="#1c0f9c"/><circle cx="744.9" cy="418.6" r="2.35" fill="#e0202a"/><circle cx="746.8" cy="415.3" r="2.35" fill="#1c0f9c"/><circle cx="748.7" cy="418.6" r="2.35" fill="#1c0f9c"/><circle cx="907.1" cy="419.0" r="2.35" fill="#e0202a"/><circle cx="905.2" cy="415.7" r="2.35" fill="#1c0f9c"/><circle cx="909.0" cy="415.7" r="2.35" fill="#1c0f9c"/><circle cx="860.4" cy="423.6" r="2.35" fill="#e0202a"/><circle cx="858.5" cy="426.9" r="2.35" fill="#1c0f9c"/><circle cx="856.6" cy="423.6" r="2.35" fill="#1c0f9c"/><circle cx="871.7" cy="436.7" r="2.35" fill="#e0202a"/><circle cx="873.6" cy="433.4" r="2.35" fill="#e0202a"/><circle cx="875.5" cy="436.7" r="2.35" fill="#1c0f9c"/><circle cx="800.4" cy="444.3" r="2.35" fill="#e0202a"/><circle cx="798.5" cy="441.0" r="2.35" fill="#1c0f9c"/><circle cx="802.3" cy="441.0" r="2.35" fill="#1c0f9c"/><circle cx="775.5" cy="457.0" r="2.35" fill="#e0202a"/><circle cx="777.4" cy="453.7" r="2.35" fill="#1c0f9c"/><circle cx="779.3" cy="457.0" r="2.35" fill="#1c0f9c"/><circle cx="836.8" cy="458.4" r="2.35" fill="#e0202a"/><circle cx="834.9" cy="455.1" r="2.35" fill="#1c0f9c"/><circle cx="838.7" cy="455.1" r="2.35" fill="#1c0f9c"/><circle cx="726.5" cy="467.3" r="2.35" fill="#e0202a"/><circle cx="724.6" cy="464.0" r="2.35" fill="#1c0f9c"/><circle cx="728.4" cy="464.0" r="2.35" fill="#1c0f9c"/><circle cx="883.5" cy="469.6" r="2.35" fill="#e0202a"/><circle cx="881.6" cy="466.3" r="2.35" fill="#1c0f9c"/><circle cx="885.4" cy="466.3" r="2.35" fill="#1c0f9c"/><circle cx="794.5" cy="482.1" r="2.35" fill="#e0202a"/><circle cx="798.3" cy="482.1" r="2.35" fill="#1c0f9c"/><circle cx="796.4" cy="485.4" r="2.35" fill="#1c0f9c"/>
</g>

<!-- ================= AXES ================= -->
<g stroke="#000" stroke-width="3" fill="none">
  <line x1="67" y1="20" x2="67" y2="754.1"/>
  <line x1="65.5" y1="752.6" x2="980" y2="752.6"/>
</g>
<path d="M67 1.5 L77.5 22.5 L56.5 22.5 Z" fill="#000"/>
<path d="M999.6 752.5 L978 742 L978 763 Z" fill="#000"/>

<!-- ================= dashed guides ================= -->
<g stroke="#000" stroke-width="2.3" fill="none" stroke-dasharray="9 8.9">
  <line x1="262" y1="157" x2="612.5" y2="157"/>
  <line x1="409" y1="219.4" x2="612" y2="219.4"/>
  <line x1="263" y1="156" x2="263" y2="258"/>
  <line x1="536.2" y1="156" x2="536.2" y2="271"/>
</g>

<!-- ================= curves ================= -->
<g fill="none" stroke-linecap="round">
  <path d="M90.5 92.6 C104 87 118 83.2 132 82.2" stroke="#dd9638" stroke-width="3.5" stroke-dasharray="0.1 5.6"/>
  <path d="M412.6 217.9 C414.1 217.8 418.1 217.6 421.8 217.2 C425.6 216.8 430.8 216.0 435.1 215.3 C439.4 214.6 443.4 213.9 447.7 213.0 C452.0 212.1 456.7 210.9 461.0 209.7 C465.3 208.5 469.5 207.4 473.6 206.0 C477.7 204.6 481.5 203.0 485.5 201.1 C489.5 199.2 493.4 197.1 497.4 194.8 C501.4 192.5 505.6 190.2 509.3 187.5 C513.0 184.8 516.4 181.9 519.8 178.7 C523.2 175.5 527.3 170.9 529.6 168.2 C531.9 165.5 533.1 163.4 533.8 162.4 " stroke="#dd9638" stroke-width="3.6" stroke-dasharray="0.1 6.4"/>
  <path d="M134.6 82.1L138.2 82.4L141.8 82.9L145.4 83.4L148.9 84.1L152.3 84.9L155.7 85.8L159.1 86.7L162.4 87.8L165.7 89.0L169.0 90.3L172.2 91.6L175.4 93.1L178.5 94.6L181.7 96.2L184.8 97.8L187.8 99.5L190.8 101.3L193.8 103.1L196.8 105.0L199.8 107.0L202.7 109.0L205.6 111.0L208.5 113.1L211.3 115.2L214.1 117.3L216.9 119.4L219.7 121.6L222.5 123.8L225.3 126.0L228.0 128.3L230.8 130.5L233.5 132.8L236.2 135.1L238.9 137.4L241.6 139.7L244.3 142.0L247.0 144.3L249.7 146.7L252.4 149.0L255.2 151.3L257.9 153.6L260.6 155.9L263.3 158.2L266.0 160.5L268.8 162.8L271.5 165.1L274.3 167.3L277.0 169.5L279.8 171.7L282.6 173.9L285.5 176.1L288.3 178.2L291.2 180.3L294.0 182.4L296.9 184.4L299.8 186.3L302.8 188.3L305.7 190.2L308.7 192.0L311.7 193.8L314.8 195.6L317.9 197.2L320.9 198.9L324.1 200.5L327.2 202.0L330.4 203.4L333.6 204.8L336.9 206.1L340.2 207.3L343.5 208.5L346.8 209.6L350.2 210.7L353.6 211.6L357.0 212.5L360.4 213.4L363.9 214.1L367.4 214.8L370.9 215.4L374.4 216.0L377.9 216.5L381.4 216.9L385.0 217.2L388.5 217.5L392.1 217.7L395.7 217.8L399.2 217.9L402.8 217.9L406.4 217.8L410.0 217.6" stroke="#0a0aa6" stroke-width="3.9"/>
  <path d="M534.5 160.0L534.2 166.0L534.0 171.9L533.7 177.9L533.4 183.9L533.2 190.0L533.0 196.0L532.7 202.0L532.5 208.0L532.2 214.1L531.9 220.2L531.7 226.2L531.4 232.3L531.2 238.3L530.9 244.4L530.6 250.5L530.3 256.6L530.0 262.6L529.6 268.7L529.3 274.8L528.9 280.9L528.5 287.0L528.1 293.0L527.7 299.1L527.3 305.2L526.8 311.2L526.3 317.3L525.8 323.3L525.2 329.3L524.6 335.4L524.0 341.4L523.4 347.4L522.7 353.4L522.0 359.4L521.2 365.3L520.4 371.3L519.6 377.3L518.8 383.2L517.8 389.1L516.9 395.0L516.0 400.9L515.0 406.8L514.0 412.7L513.0 418.6L512.1 424.5L511.2 430.4L510.3 436.3L509.4 442.2L508.6 448.2L507.9 454.2L507.2 460.2L506.6 466.2L506.1 472.2L505.7 478.3L505.4 484.5L505.3 490.7L505.2 496.9L505.3 503.1L505.5 509.3L505.9 515.4L506.4 521.6L507.1 527.7L508.0 533.8L509.0 539.9L510.2 545.8L511.6 551.7L513.3 557.5L515.1 563.2L517.2 568.8L519.4 574.3L521.9 579.6L524.7 584.8L527.7 589.8L531.0 594.7L534.5 599.4L538.3 603.9L542.3 608.2L546.6 612.3L551.1 616.3L555.8 620.1L560.7 623.7L565.8 627.1L571.0 630.3L576.3 633.4L581.8 636.2L587.3 638.9L592.9 641.4L598.7 643.7L604.4 645.9L610.2 647.9L616.0 649.7L621.9 651.4L627.7 652.9L633.6 654.3L639.5 655.6L645.4 656.8L651.4 658.0L657.3 659.1L663.2 660.1L669.2 661.1L675.1 662.1L681.1 663.1L687.0 664.0L693.0 664.9L698.9 665.8L704.9 666.7L710.9 667.5L716.8 668.3L722.8 669.1L728.8 669.8L734.8 670.5L740.8 671.2L746.8 671.9L752.8 672.5L758.8 673.2L764.8 673.7L770.9 674.3L776.9 674.8L782.9 675.3L789.0 675.8" stroke="#0a0aa6" stroke-width="3.9"/>
</g>

<!-- ================= red arrows ================= -->
<g fill="none" stroke="#cc1219" stroke-width="3.6" stroke-linecap="round">
  <path d="M189 89 C183 58 150 44 112 63"/>
  <path d="M475.7 188.1 C473.1 189.3 465.9 193.0 460.0 195.3 C454.1 197.6 446.7 200.0 440.0 201.8 C433.3 203.6 426.7 205.1 420.0 206.0 C413.3 206.9 405.8 207.2 400.0 207.3 C394.2 207.4 390.0 207.1 385.0 206.5 C380.0 205.9 374.5 205.1 370.0 204.0 C365.5 202.9 361.6 201.4 358.0 200.0 C354.4 198.6 350.1 196.2 348.5 195.5 "/>
  <path d="M562.8 164.3 C558.5 134 542.5 120.5 523.5 135"/>
  <path d="M744 660 Q683 650 626 636.5"/>
</g>
<g fill="#ee161c">
  <path d="M95 72 L110 56.5 L116.5 67.5 Z"/>
  <path d="M331 184 L352.4 191.6 L343.8 200.8 Z"/>
  <path d="M508.5 147.9 L519.5 128.8 L528 139.2 Z"/>
  <path d="M609 632 L631 630 L627 643 Z"/>
</g>

<!-- ================= dimension arrows ================= -->
<g stroke="#000" stroke-width="2.2" fill="none">
  <line x1="266" y1="239.5" x2="533" y2="239.5"/>
  <line x1="577.5" y1="162" x2="577.5" y2="213"/>
</g>
<g fill="#000">
  <path d="M263 239.5 L281 233.5 L276 239.5 L281 245.5 Z"/>
  <path d="M536 239.5 L518 233.5 L523 239.5 L518 245.5 Z"/>
  <path d="M577.5 156.6 L572 177.5 L577.5 170.5 L583 177.5 Z"/>
  <path d="M577.5 217.4 L572 197.8 L577.5 205 L583 197.8 Z"/>
</g>

<!-- ================= label boxes ================= -->
<rect x="683.3" y="116.9" width="249.8" height="98.4" fill="#fff" stroke="#0a0aa8" stroke-width="3"/>
<rect x="130.5" y="606.9" width="225.8" height="99.2" fill="#fff" stroke="#0a0aa8" stroke-width="3"/>
<g stroke="#000" stroke-width="3.5" fill="none">
  <line x1="808.4" y1="216.5" x2="808.4" y2="362"/>
  <line x1="243.3" y1="606" x2="243.3" y2="442"/>
</g>
<path d="M808.4 369.2 L803.6 360 L813.2 360 Z" fill="#000"/>
<path d="M243.3 435.2 L238.5 443.5 L248 443.5 Z" fill="#000"/>

<!-- ================= text ================= -->
<g font-size="36.5px" fill="#000" text-anchor="middle">
  <text transform="translate(808.5 156) scale(1.008 1)">Nuclear matter</text>
  <text transform="translate(808.4 200.3) scale(1.03 1)">core</text>
  <text transform="translate(243.7 647.4) scale(1.008 1)">Quark matter</text>
  <text transform="translate(243 690.8) scale(1.03 1)">core</text>
</g>
<text transform="translate(79.9 146) scale(1.048 1)" font-size="37.7px" fill="#dd9030">unstable</text>
<text transform="translate(579 615.8) scale(1.025 1)" font-size="38.4px" fill="#0c0ca4">stable</text>
<text transform="translate(478 810) scale(1.012 1)" font-size="39.2px" fill="#000">Radius</text>
<text transform="translate(39.1 401.2) rotate(-90)" font-size="39.4px" fill="#000">Mass</text>
<text transform="translate(374.6 280.3) scale(1.03 1)" font-size="36.5px" fill="#000">Δ<tspan font-style="italic">R</tspan></text>
<text transform="translate(589.3 200.6) scale(1.09 1)" font-size="36.5px" fill="#000">Δ<tspan font-style="italic">M</tspan></text>
</svg>
</body></html>
